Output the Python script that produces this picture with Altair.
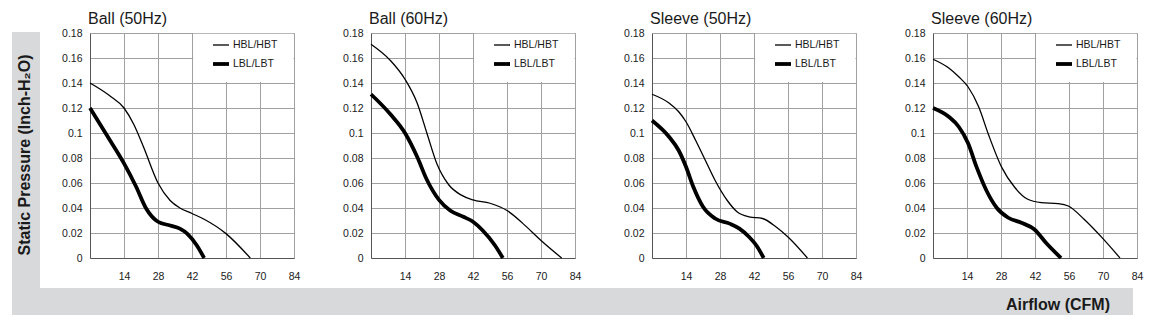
import altair as alt
import pandas as pd

# ---------------- data ----------------
titles = ["Ball (50Hz)", "Ball (60Hz)", "Sleeve (50Hz)", "Sleeve (60Hz)"]
series_names = ["HBL/HBT", "LBL/LBT"]

b50_hbl_x = [0, 8, 14, 18, 22, 28, 33, 37, 42, 47, 56, 66]
b50_hbl_y = [0.140, 0.130, 0.120, 0.107, 0.089, 0.060, 0.046, 0.040, 0.0356, 0.031, 0.0195, 0]
b50_lbl_x = [0, 7, 14, 19, 23, 28, 33, 37, 40, 44, 47]
b50_lbl_y = [0.120, 0.098, 0.0757, 0.057, 0.040, 0.029, 0.026, 0.0235, 0.0195, 0.010, 0]

b60_hbl_x = [0, 8, 14, 19, 23, 27, 32, 37, 42, 49, 56, 62.5, 70, 78.5]
b60_hbl_y = [0.171, 0.158, 0.143, 0.124, 0.100, 0.076, 0.0586, 0.0505, 0.0465, 0.0438, 0.038, 0.0277, 0.014, 0]
b60_lbl_x = [0, 8, 14, 19, 23, 28, 32.6, 38, 42, 46, 51, 54.3]
b60_lbl_y = [0.131, 0.115, 0.100, 0.081, 0.0626, 0.0465, 0.038, 0.033, 0.029, 0.022, 0.0102, 0]

s50_hbl_x = [0, 7, 11, 14, 18, 22, 26, 31, 35, 40, 45.5, 51, 56, 64]
s50_hbl_y = [0.131, 0.124, 0.117, 0.109, 0.094, 0.078, 0.062, 0.046, 0.037, 0.0329, 0.0316, 0.025, 0.0168, 0]
s50_lbl_x = [0, 7, 11, 14, 17, 21, 26, 32, 36, 40, 43, 46]
s50_lbl_y = [0.110, 0.097, 0.086, 0.073, 0.057, 0.041, 0.0316, 0.0275, 0.0235, 0.0168, 0.010, 0]

s60_hbl_x = [0, 6.5, 10.6, 14.4, 18.8, 22.8, 28.3, 33.7, 39, 44.6, 51.4, 55.7, 62.2, 69.7, 77]
s60_hbl_y = [0.159, 0.152, 0.145, 0.137, 0.121, 0.099, 0.0725, 0.0564, 0.047, 0.0443, 0.0435, 0.0416, 0.031, 0.0161, 0]
s60_lbl_x = [0, 6.5, 10.6, 14.4, 18, 22, 26.3, 31, 36.4, 41.8, 46.6, 52.7]
s60_lbl_y = [0.120, 0.113, 0.105, 0.092, 0.0725, 0.054, 0.040, 0.0322, 0.0282, 0.0228, 0.012, 0]

x_ticks = [14, 28, 42, 56, 70, 84]
y_ticks = [0, 0.02, 0.04, 0.06, 0.08, 0.1, 0.12, 0.14, 0.16, 0.18]

y_title = "Static Pressure (Inch-H\u2082O)"
x_title = "Airflow (CFM)"

FONT = "Liberation Sans"
W, H = 204, 225

panels_data = [
    (b50_hbl_x, b50_hbl_y, b50_lbl_x, b50_lbl_y),
    (b60_hbl_x, b60_hbl_y, b60_lbl_x, b60_lbl_y),
    (s50_hbl_x, s50_hbl_y, s50_lbl_x, s50_lbl_y),
    (s60_hbl_x, s60_hbl_y, s60_lbl_x, s60_lbl_y),
]

xscale = alt.Scale(domain=[0, 84], nice=False, zero=False)
yscale = alt.Scale(domain=[0, 0.18], nice=False)

xaxis = alt.Axis(values=x_ticks, title=None, grid=True, ticks=False,
                 labelPadding=13, labelFontSize=10.5, labelFont=FONT,
                 labelColor="#1a1a1a", domainColor="#555555",
                 gridColor="#a0a0a0", labelFlush=False)
yaxis = alt.Axis(values=y_ticks, format="~g", title=None, grid=True,
                 ticks=False, labelPadding=8, labelFontSize=10.5,
                 labelFont=FONT, labelColor="#1a1a1a",
                 domainColor="#555555", gridColor="#a0a0a0",
                 labelFlush=False)


def make_panel(title, hx, hy, lx, ly, first):
    rows = []
    for name, xs, ys in ((series_names[0], hx, hy), (series_names[1], lx, ly)):
        for i, (a, b) in enumerate(zip(xs, ys)):
            rows.append({"series": name, "x": a, "y": b, "i": i})
    df = pd.DataFrame(rows)

    lines = alt.Chart(df).mark_line(color="black", interpolate="monotone").encode(
        x=alt.X("x:Q", scale=xscale, axis=xaxis),
        y=alt.Y("y:Q", scale=yscale, axis=yaxis),
        strokeWidth=alt.StrokeWidth(
            "series:N",
            scale=alt.Scale(domain=series_names, range=[1.3, 3.8]),
            legend=alt.Legend(orient="none", legendX=121, legendY=3, title=None,
                              symbolType="stroke", symbolSize=256,
                              symbolStrokeColor="black", labelFont=FONT,
                              labelFontSize=10.5, labelColor="#1a1a1a",
                              labelOffset=2, rowPadding=3, padding=0),
        ),
        detail="series:N",
        order="i:Q",
    )

    box_df = pd.DataFrame({"x": [42.5], "x2": [83.8], "y": [0.1408], "y2": [0.1795]})
    legend_box = alt.Chart(box_df).mark_rect(fill="white").encode(
        x=alt.X("x:Q", scale=xscale, axis=xaxis),
        x2="x2:Q",
        y=alt.Y("y:Q", scale=yscale, axis=yaxis),
        y2="y2:Q",
    )

    layers = [lines, legend_box]
    if first:
        one = pd.DataFrame({"k": [0]})
        left_band = alt.Chart(one).mark_rect(fill="#d8d9db").encode(
            x=alt.value(-78), x2=alt.value(-50), y=alt.value(-1), y2=alt.value(282))
        bottom_band = alt.Chart(one).mark_rect(fill="#d8d9db").encode(
            x=alt.value(-78), x2=alt.value(1043), y=alt.value(255), y2=alt.value(282))
        ytxt = alt.Chart(one).mark_text(
            text=y_title, angle=270, font=FONT, fontWeight="bold", fontSize=16,
            color="#1a1a1a", align="center", baseline="middle"
        ).encode(x=alt.value(-65), y=alt.value(122))
        xtxt = alt.Chart(one).mark_text(
            text=x_title, font=FONT, fontWeight="bold", fontSize=16,
            color="#1a1a1a", align="right", baseline="middle"
        ).encode(x=alt.value(1020), y=alt.value(272))
        layers = layers + [left_band, bottom_band, ytxt, xtxt]

    return alt.layer(*layers).properties(
        width=W, height=H,
        title=alt.TitleParams(title, anchor="start", frame="group", fontSize=16,
                              font=FONT, fontWeight="normal", color="#1a1a1a",
                              offset=1, dx=-2),
    ).resolve_scale(strokeWidth="independent")


panels = [make_panel(t, *d, first=(k == 0)) for k, (t, d) in enumerate(zip(titles, panels_data))]

chart = alt.hconcat(*panels, spacing=77, bounds="flush").resolve_scale(
    strokeWidth="independent"
).resolve_legend(strokeWidth="independent").properties(
    padding={"left": 11, "top": 10, "right": 2, "bottom": 4}
).configure_view(stroke="#8f8f8f", strokeWidth=1).configure(background="white")

chart.save("out.html", embed_options={"renderer": "svg", "actions": False})
